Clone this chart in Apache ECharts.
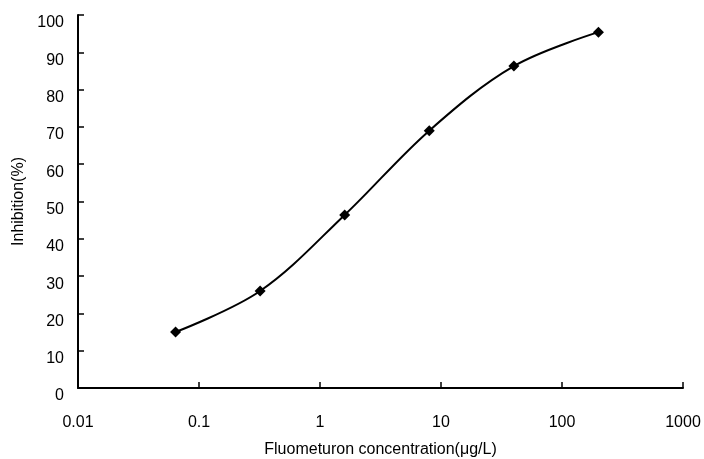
<!DOCTYPE html>
<html><head><meta charset="utf-8">
<script src="https://cdn.jsdelivr.net/npm/echarts@6/dist/echarts.min.js"></script>
<style>html,body{margin:0;padding:0;background:#fff}#c{width:704px;height:459px}</style>
</head><body><div id="c"></div>
<script>
const concentrations = [0.064, 0.32, 1.6, 8, 40, 200];
const inhibition = [15, 26, 46.4, 69, 86.3, 95.4];
const xName = 'Fluometuron concentration(μg/L)';
const yName = 'Inhibition(%)';

const chart = echarts.init(document.getElementById('c'));
const font = 'Liberation Sans, Arial, sans-serif';
chart.setOption({
  animation: false,
  backgroundColor: '#fff',
  grid: {left: 78, right: 21, top: 15, bottom: 71, containLabel: false, outerBoundsMode: 'none'},
  xAxis: {
    type: 'log', logBase: 10, min: 0.01, max: 1000,
    name: xName, nameLocation: 'middle', nameGap: 54,
    nameTextStyle: {color: '#000', fontSize: 16, fontFamily: font},
    axisLine: {lineStyle: {color: '#000', width: 2}},
    axisTick: {inside: true, length: 6, lineStyle: {color: '#000', width: 1.5}},
    minorTick: {show: false},
    splitLine: {show: false},
    axisLabel: {color: '#000', fontSize: 16, fontFamily: font, margin: 27,
      formatter: v => String(v)}
  },
  yAxis: {
    type: 'value', min: 0, max: 100, interval: 10,
    name: yName, nameLocation: 'middle', nameGap: 51,
    nameTextStyle: {color: '#000', fontSize: 16, fontFamily: font},
    axisLine: {show: true, lineStyle: {color: '#000', width: 2}},
    axisTick: {show: true, inside: true, length: 6, lineStyle: {color: '#000', width: 1.5}},
    splitLine: {show: false},
    axisLabel: {color: '#000', fontSize: 16, fontFamily: font, margin: 14,
      verticalAlign: 'top'}
  },
  series: [{
    type: 'line',
    data: concentrations.map((c, i) => [c, inhibition[i]]),
    smooth: 0.35,
    symbol: 'diamond', symbolSize: 11,
    itemStyle: {color: '#000'},
    lineStyle: {color: '#000', width: 2}
  }]
});
</script></body></html>
